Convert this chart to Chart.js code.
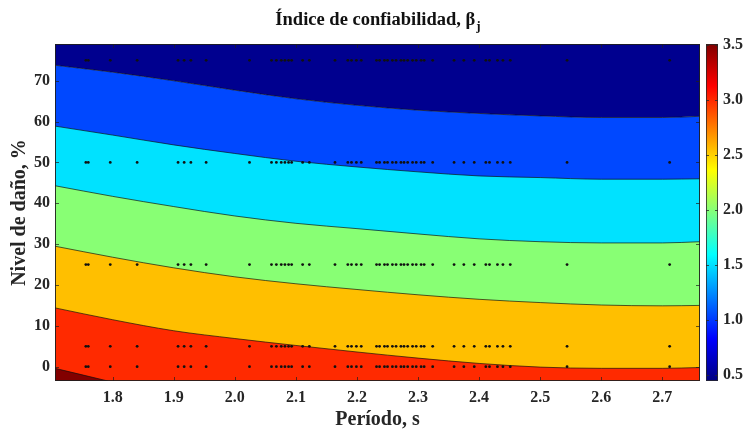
<!DOCTYPE html>
<html>
<head>
<meta charset="utf-8">
<script src="https://cdn.jsdelivr.net/npm/chart.js@4/dist/chart.umd.min.js"></script>
<style>
  html, body { margin: 0; padding: 0; background: #ffffff; }
  #wrap { width: 749px; height: 431px; }
</style>
</head>
<body>
<div id="wrap"><canvas id="c" width="749" height="431"></canvas></div>
<script>
// Text
const titleMain = 'Índice de confiabilidad, β';
const titleSub = 'j';
const xTitle = 'Período, s';
const yTitle = 'Nivel de daño, %';

// Axis ranges and ticks
const periodTicks = [1.8, 1.9, 2.0, 2.1, 2.2, 2.3, 2.4, 2.5, 2.6, 2.7];
const damageTicks = [0, 10, 20, 30, 40, 50, 60, 70];
const betaTicks = [0.5, 1.0, 1.5, 2.0, 2.5, 3.0, 3.5];
const periodRange = [1.7055, 2.7617];
const damageRange = [-3.5, 79];
const betaRange = [0.445, 3.505];

// Periods at which the contour lines are sampled
const samplePeriods = [1.7055, 1.8, 1.9, 2.0, 2.1, 2.2, 2.3, 2.4, 2.5, 2.6, 2.7, 2.7617];
// Damage level (%) of each beta contour at samplePeriods
const contour1p0 = [73.8, 72.1, 70.0, 67.7, 65.6, 64.0, 62.8, 62.0, 61.4, 61.0, 61.0, 61.3];
const contour1p5 = [58.9, 56.7, 54.3, 52.2, 50.3, 48.9, 47.7, 46.7, 46.3, 45.9, 45.9, 46.0];
const contour2p0 = [44.3, 41.7, 39.2, 36.9, 35.1, 33.8, 32.5, 31.3, 30.6, 30.3, 30.3, 30.6];
const contour2p5 = [29.5, 26.8, 24.2, 22.0, 20.3, 18.9, 17.6, 16.5, 15.7, 15.1, 14.9, 15.0];
const contour3p0 = [14.4, 11.5, 8.8, 6.9, 5.2, 3.6, 2.1, 0.8, -0.1, -0.4, -0.4, -0.2];
// The 3.5 contour only cuts the lower-left corner
const contour3p5Periods = [1.7055, 1.792];
const contour3p5 = [-0.4, -3.5];

// Band colours (jet colormap levels)
const bandColors = {
  b0p5: '#00008f',
  b1p0: '#0048ff',
  b1p5: '#00e2ff',
  b2p0: '#88ff74',
  b2p5: '#ffbf00',
  b3p0: '#ff2a00',
  b3p5: '#820000'
};

// Analysed structures: periods and damage levels
const damageLevels = [0, 5, 25, 50, 75];
const structurePeriods = [
  1.756, 1.760, 1.796, 1.840, 1.907, 1.917, 1.928, 1.953, 2.024,
  2.060, 2.068, 2.076, 2.082, 2.088, 2.093, 2.111, 2.122,
  2.164, 2.185, 2.191, 2.199, 2.207,
  2.232, 2.237, 2.245, 2.250, 2.258, 2.264, 2.272, 2.277, 2.283, 2.291, 2.297, 2.305, 2.310, 2.324,
  2.359, 2.375, 2.392, 2.411, 2.417, 2.430, 2.439, 2.451,
  2.544, 2.712
];

const serif = '"Liberation Serif", "Times New Roman", serif';
const inkColor = '#262626';

function curve(xs, ys) { return xs.map((x, i) => ({ x: x, y: ys[i] })); }

function contourDataset(xs, ys, color, fill) {
  return {
    data: curve(xs, ys),
    fill: fill,
    backgroundColor: color,
    borderColor: 'rgba(15,15,15,0.85)',
    borderWidth: 0.8,
    pointRadius: 0,
    cubicInterpolationMode: 'monotone'
  };
}

const structurePoints = damageLevels.flatMap(y => structurePeriods.map(x => ({ x: x, y: y })));

const datasets = [
  {
    data: structurePoints,
    showLine: false,
    pointRadius: 1.4,
    pointBackgroundColor: '#111111',
    pointBorderWidth: 0
  },
  contourDataset(contour3p5Periods, contour3p5, bandColors.b3p5, 'start'),
  contourDataset(samplePeriods, contour3p0, bandColors.b3p0, 'start'),
  contourDataset(samplePeriods, contour2p5, bandColors.b2p5, 'start'),
  contourDataset(samplePeriods, contour2p0, bandColors.b2p0, 'start'),
  contourDataset(samplePeriods, contour1p5, bandColors.b1p5, 'start'),
  contourDataset(samplePeriods, contour1p0, bandColors.b1p0, 'start'),
  Object.assign(contourDataset(samplePeriods, contour1p0, bandColors.b0p5, 'end'), { borderWidth: 0 })
];

// Jet colormap stops
const jetStops = [
  [0.0, 'rgb(0,0,128)'],
  [0.125, 'rgb(0,0,255)'],
  [0.375, 'rgb(0,255,255)'],
  [0.625, 'rgb(255,255,0)'],
  [0.875, 'rgb(255,0,0)'],
  [1.0, 'rgb(128,0,0)']
];

const titlePlugin = {
  id: 'betaTitle',
  afterDraw(chart) {
    const ctx = chart.ctx;
    const area = chart.chartArea;
    ctx.save();
    ctx.fillStyle = '#111111';
    ctx.textBaseline = 'alphabetic';
    ctx.font = 'bold 18.5px ' + serif;
    const w1 = ctx.measureText(titleMain).width;
    ctx.font = 'bold 13px ' + serif;
    const w2 = ctx.measureText(titleSub).width;
    const x0 = (area.left + area.right) / 2 - (w1 + w2) / 2;
    ctx.font = 'bold 18.5px ' + serif;
    ctx.textAlign = 'left';
    ctx.fillText(titleMain, x0, 25);
    ctx.font = 'bold 13px ' + serif;
    ctx.fillText(titleSub, x0 + w1 + 1, 30);
    ctx.restore();
  }
};

const framePlugin = {
  id: 'frame',
  afterDraw(chart) {
    const ctx = chart.ctx;
    const a = chart.chartArea;
    const xs = chart.scales.x, ys = chart.scales.y;
    ctx.save();
    ctx.strokeStyle = 'rgba(30,30,30,0.9)';
    ctx.lineWidth = 1;
    ctx.strokeRect(a.left + 0.5, a.top + 0.5, a.right - a.left - 1, a.bottom - a.top - 1);
    ctx.strokeStyle = 'rgba(30,30,30,0.7)';
    ctx.beginPath();
    periodTicks.forEach(v => {
      const px = Math.round(xs.getPixelForValue(v)) + 0.5;
      ctx.moveTo(px, a.bottom); ctx.lineTo(px, a.bottom - 4);
      ctx.moveTo(px, a.top); ctx.lineTo(px, a.top + 4);
    });
    damageTicks.forEach(v => {
      const py = Math.round(ys.getPixelForValue(v)) + 0.5;
      ctx.moveTo(a.left, py); ctx.lineTo(a.left + 4, py);
      ctx.moveTo(a.right, py); ctx.lineTo(a.right - 4, py);
    });
    ctx.stroke();
    ctx.restore();
  }
};

const colorbarPlugin = {
  id: 'colorbar',
  afterDraw(chart) {
    const ctx = chart.ctx;
    const cb = chart.scales.cb;
    const x0 = cb.left + 6, x1 = cb.left + 18;
    const top = cb.getPixelForValue(betaRange[1]);
    const bottom = cb.getPixelForValue(betaRange[0]);
    ctx.save();
    const g = ctx.createLinearGradient(0, bottom, 0, top);
    jetStops.forEach(s => g.addColorStop(s[0], s[1]));
    ctx.fillStyle = g;
    ctx.fillRect(x0, top, x1 - x0, bottom - top);
    ctx.strokeStyle = 'rgba(40,40,40,0.8)';
    ctx.lineWidth = 1;
    ctx.strokeRect(x0 + 0.5, top + 0.5, x1 - x0 - 1, bottom - top - 1);
    ctx.beginPath();
    betaTicks.forEach(v => {
      const py = Math.round(cb.getPixelForValue(v)) + 0.5;
      ctx.moveTo(x1, py); ctx.lineTo(x1 - 3, py);
      ctx.moveTo(x0, py); ctx.lineTo(x0 + 3, py);
    });
    ctx.stroke();
    ctx.restore();
  }
};

const tickFont = { family: serif, size: 16, weight: 'bold' };
const axisTitleFont = { family: serif, size: 20, weight: 'bold', lineHeight: 1.0 };

new Chart(document.getElementById('c'), {
  type: 'line',
  data: { datasets: datasets },
  options: {
    responsive: false,
    animation: false,
    devicePixelRatio: 1,
    layout: { padding: { top: 44, right: 0, bottom: 0, left: 0 } },
    plugins: { legend: { display: false }, tooltip: { enabled: false }, title: { display: false } },
    scales: {
      x: {
        type: 'linear',
        min: periodRange[0],
        max: periodRange[1],
        z: 1,
        afterBuildTicks: s => { s.ticks = periodTicks.map(v => ({ value: v })); },
        afterFit: s => { s.height = 50; },
        ticks: { font: tickFont, color: inkColor, padding: 7, maxRotation: 0, callback: v => Number(v).toFixed(1) },
        grid: { color: 'rgba(0,0,0,0.10)', drawTicks: false },
        border: { display: false },
        title: { display: true, text: xTitle, font: axisTitleFont, color: inkColor, padding: { top: 0, bottom: 1 } }
      },
      y: {
        type: 'linear',
        min: damageRange[0],
        max: damageRange[1],
        z: 1,
        afterBuildTicks: s => { s.ticks = damageTicks.map(v => ({ value: v })); },
        afterFit: s => { s.width = 55; },
        ticks: { font: tickFont, color: inkColor, padding: 5, callback: v => String(v) },
        grid: { color: 'rgba(0,0,0,0.10)', drawTicks: false },
        border: { display: false },
        title: { display: true, text: yTitle, font: axisTitleFont, color: inkColor, padding: { top: 10, bottom: 0 } }
      },
      cb: {
        type: 'linear',
        position: 'right',
        min: betaRange[0],
        max: betaRange[1],
        afterBuildTicks: s => { s.ticks = betaTicks.map(v => ({ value: v })); },
        afterFit: s => { s.width = 49; },
        ticks: { font: tickFont, color: inkColor, padding: 23, callback: v => Number(v).toFixed(1) },
        grid: { display: false, drawTicks: false },
        border: { display: false }
      }
    }
  },
  plugins: [titlePlugin, framePlugin, colorbarPlugin]
});
</script>
</body>
</html>
